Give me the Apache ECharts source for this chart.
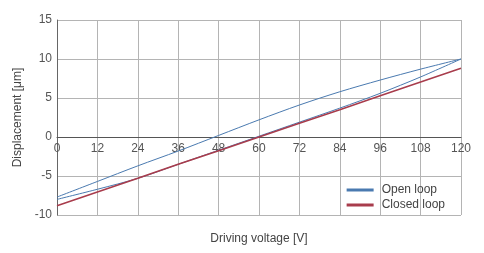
<!DOCTYPE html>
<html><head><meta charset="utf-8">
<script src="https://cdn.jsdelivr.net/npm/echarts@6/dist/echarts.min.js"></script>
<style>html,body{margin:0;padding:0;background:#fff}#c{width:484px;height:253px}</style>
</head><body><div id="c"></div>
<script>
var voltage = [0, 12, 24, 36, 48, 60, 72, 84, 96, 108, 120];
var openRising = [-8.0, -6.7, -5.3, -3.5, -1.7, 0.1, 1.9, 3.7, 5.6, 7.7, 10.0];
var openFalling = [-7.7, -5.7, -3.7, -1.8, 0.2, 2.2, 4.1, 5.8, 7.3, 8.7, 10.0];
var closedLoop = [-8.8, -7.05, -5.3, -3.5, -1.75, 0.0, 1.75, 3.5, 5.3, 7.05, 8.8];
var xTicks = [0, 120, 12];
var yTicks = [-10, 15, 5];

var openData = [];
for (var i = 0; i < voltage.length; i++) openData.push([voltage[i], openRising[i]]);
for (var j = voltage.length - 1; j >= 0; j--) openData.push([voltage[j], openFalling[j]]);
var closedData = voltage.map(function (v, i) { return [v, closedLoop[i]]; });

var FONT = 'Liberation Sans, Arial, sans-serif';
var chart = echarts.init(document.getElementById('c'), null, {renderer: 'canvas'});
chart.setOption({
  animation: false,
  backgroundColor: '#fff',
  grid: {left: 57, right: 23, top: 20, bottom: 38, containLabel: false, outerBoundsMode: 'none'},
  legend: {
    orient: 'vertical', right: 34, bottom: 37, itemWidth: 27, itemHeight: 3, itemGap: 3,
    icon: 'rect',
    textStyle: {fontFamily: FONT, fontSize: 12, color: '#444', padding: [0, 0, 0, 3]},
    data: ['Open loop', 'Closed loop']
  },
  xAxis: {
    type: 'value', min: xTicks[0], max: xTicks[1], interval: xTicks[2],
    position: 'bottom', offset: -78,
    name: 'Driving voltage [V]', nameLocation: 'middle', nameGap: 96,
    nameTextStyle: {fontFamily: FONT, fontSize: 12, color: '#444'},
    axisLine: {onZero: false, lineStyle: {color: '#555', width: 1}},
    axisTick: {show: false},
    axisLabel: {fontFamily: FONT, fontSize: 12, color: '#555', margin: 6},
    splitLine: {show: true, lineStyle: {color: '#b4b4b4', width: 1}}
  },
  yAxis: {
    type: 'value', min: yTicks[0], max: yTicks[1], interval: yTicks[2],
    name: 'Displacement [μm]', nameLocation: 'middle', nameGap: 31, nameRotate: 90,
    nameTextStyle: {fontFamily: FONT, fontSize: 12, color: '#444'},
    axisLine: {show: true, lineStyle: {color: '#666', width: 1}},
    axisTick: {show: false},
    axisLabel: {fontFamily: FONT, fontSize: 12, color: '#555', margin: 5},
    splitLine: {show: true, lineStyle: {color: '#b4b4b4', width: 1}}
  },
  series: [
    {name: 'Open loop', type: 'line', data: openData, showSymbol: false, symbol: 'none', smooth: 0.3,
     lineStyle: {color: '#4a7ab0', width: 1}, itemStyle: {color: '#4a7ab0'}},
    {name: 'Closed loop', type: 'line', data: closedData, showSymbol: false, symbol: 'none',
     lineStyle: {color: '#a83c4c', width: 1.6}, itemStyle: {color: '#a83c4c'}}
  ]
});
</script></body></html>
